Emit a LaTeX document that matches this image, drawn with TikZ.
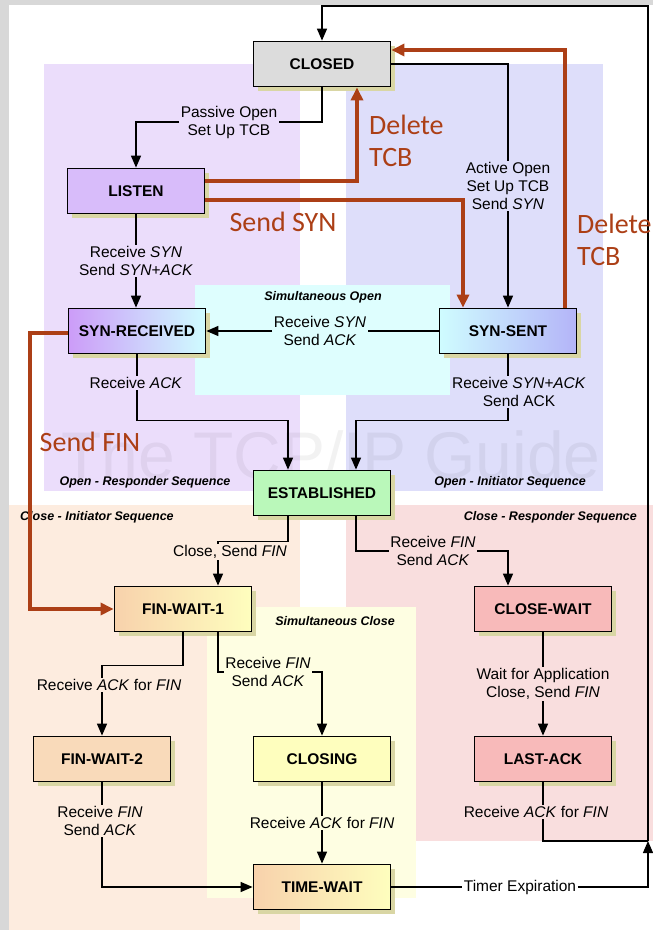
\documentclass[tikz,border=0pt]{standalone}
\usepackage{fontspec}
\setmainfont{Liberation Sans}
\newfontfamily\redfont{Carlito}
\usetikzlibrary{arrows.meta,shadows,calc}
\definecolor{bggray}{HTML}{D8D8D8}
\definecolor{regpurple}{HTML}{EBDDFB}
\definecolor{regblue}{HTML}{DEDEFA}
\definecolor{regcyan}{HTML}{DEFEFE}
\definecolor{regpeach}{HTML}{FDECDF}
\definecolor{regpink}{HTML}{F9DEDE}
\definecolor{regyellow}{HTML}{FEFEE2}
\definecolor{shadowc}{HTML}{D9D6A4}
\definecolor{redc}{HTML}{AC3F16}
\definecolor{cgray}{HTML}{DCDCDC}
\definecolor{cpurple}{HTML}{D8BCFA}
\definecolor{cpurple2}{HTML}{CC9CF8}
\definecolor{ccyan}{HTML}{CFFCFF}
\definecolor{cblue}{HTML}{B4B4F8}
\definecolor{cgreen}{HTML}{BAF8BA}
\definecolor{cpeach}{HTML}{F8D2AC}
\definecolor{cyellow}{HTML}{FEFEBE}
\definecolor{cpink}{HTML}{F8BABA}
\definecolor{cpeach2}{HTML}{F9DABA}
\begin{document}
\begin{tikzpicture}[x=1pt,y=-1pt,
  state/.style={draw=black, line width=1.8pt, minimum width=137pt, minimum height=45pt,
    inner sep=0pt, font=\fontsize{15.5}{18}\selectfont\bfseries,
    drop shadow={shadow xshift=4pt, shadow yshift=-4pt, fill=shadowc, opacity=1}},
  lbl/.style={align=center, inner sep=1.5pt, font=\fontsize{15.5}{18}\selectfont},
  reg/.style={inner sep=0pt, font=\fontsize{12.5}{15}\selectfont\bfseries\itshape},
  conn/.style={line width=1.4pt},
  arr/.style={conn, -{Triangle[length=12pt,width=10pt]}},
  redarr/.style={draw=redc, line width=4pt, -{Triangle[length=13pt,width=12pt]}},
  redtxt/.style={text=redc, font=\redfont\fontsize{28}{32}\selectfont, align=left, inner sep=0pt}]
\useasboundingbox (0,0) rectangle (653,930);
% background
\fill[bggray] (0,0) rectangle (653,930);
\fill[white] (9,5) rectangle (653,930);
% regions
\fill[regpurple] (44,64) rectangle (300,491);
\fill[regblue] (346,64) rectangle (603,491);
\fill[regcyan] (195,285) rectangle (450,395);
\fill[regpeach] (9,505) rectangle (300,930);
\fill[regpink] (346,505) rectangle (653,841);
\fill[regyellow] (207,607) rectangle (416,898);
% watermark
\node[text=black, opacity=0.05, font=\fontsize{66}{70}\selectfont, inner sep=0pt] (wm) at (331,455) {The TCP/IP Guide};
% region labels
\node[reg] (rl1) at (145,482) {Open - Responder Sequence};
\node[reg] (rl2) at (510,482) {Open - Initiator Sequence};
\node[reg] (rl3) at (323,297) {Simultaneous Open};
\node[reg, anchor=west] (rl4) at (20,517) {Close - Initiator Sequence};
\node[reg, anchor=east] (rl5) at (637,517) {Close - Responder Sequence};
\node[reg] (rl6) at (335,621) {Simultaneous Close};
% states
\node[state, fill=cgray] (closed) at (322,64) {CLOSED};
\node[state, fill=cpurple] (listen) at (136,191) {LISTEN};
\node[state, left color=cpurple2, right color=ccyan] (synr) at (137,331) {SYN-RECEIVED};
\node[state, left color=ccyan, right color=cblue] (syns) at (508,331) {SYN-SENT};
\node[state, fill=cgreen] (est) at (322,493) {ESTABLISHED};
\node[state, left color=cpeach, right color=cyellow] (fw1) at (183,609) {FIN-WAIT-1};
\node[state, fill=cpink] (cw) at (543,609) {CLOSE-WAIT};
\node[state, fill=cpeach2] (fw2) at (102,759) {FIN-WAIT-2};
\node[state, fill=cyellow] (closing) at (322,759) {CLOSING};
\node[state, fill=cpink] (lastack) at (543,759) {LAST-ACK};
\node[state, left color=cpeach, right color=cyellow] (tw) at (322,887) {TIME-WAIT};
% labels
\node[lbl] (pl) at (229,122) {Passive Open\\Set Up TCB};
\node[lbl] (ao) at (508,186) {Active Open\\Set Up TCB\\Send \textit{SYN}};
\node[lbl] (rs1) at (136,261) {Receive \textit{SYN}\\Send \textit{SYN+ACK}};
\node[lbl] (rs2) at (320,331) {Receive \textit{SYN}\\Send \textit{ACK}};
\node[lbl] (ra) at (136,383) {Receive \textit{ACK}};
\node[lbl] (rsa) at (519,392) {Receive \textit{SYN+ACK}\\Send ACK};
\node[lbl] (csf) at (230,552) {Close, Send \textit{FIN}};
\node[lbl] (rf1) at (433,551) {Receive \textit{FIN}\\Send \textit{ACK}};
\node[lbl] (raf1) at (109,685) {Receive \textit{ACK} for \textit{FIN}};
\node[lbl] (rf2) at (268,672) {Receive \textit{FIN}\\Send \textit{ACK}};
\node[lbl] (rf3) at (100,821) {Receive \textit{FIN}\\Send \textit{ACK}};
\node[lbl] (raf2) at (322,823) {Receive \textit{ACK} for \textit{FIN}};
\node[lbl] (wfa) at (543,684) {Wait for Application\\Close, Send \textit{FIN}};
\node[lbl] (raf3) at (536,812) {Receive \textit{ACK} for \textit{FIN}};
\node[lbl] (te) at (520,887) {Timer Expiration};
% helper coordinates
\coordinate (estNL) at ($(est.north)+(-34,0)$);
\coordinate (estNR) at ($(est.north)+(34,0)$);
\coordinate (estSL) at ($(est.south)+(-34,0)$);
\coordinate (estSR) at ($(est.south)+(34,0)$);
\coordinate (fw1NR) at ($(fw1.north)+(35,0)$);
\coordinate (fw1SR) at ($(fw1.south)+(35,0)$);
\coordinate (cwNL) at ($(cw.north)+(-35,0)$);
\coordinate (join) at (648,841);
\coordinate (topr) at (648,6);
% black connectors
\draw[conn] (closed.south) |- (pl.east);
\draw[arr] (pl.west) -| (listen.north);
\draw[conn] (closed.east) -| (syns.north |- ao.north);
\draw[arr] (syns.north |- ao.south) -- (syns.north);
\draw[conn] (listen.south) -- (rs1.north -| listen.south);
\draw[arr] (rs1.south -| listen.south) -- (synr.north -| listen.south);
\draw[conn] (syns.west) -- (rs2.east);
\draw[arr] (rs2.west) -- (synr.east);
\draw[conn] (synr.south) -- (ra.north -| synr.south);
\draw[arr] (ra.south -| synr.south) |- ($(estNL)+(0,-49)$) -- (estNL);
\draw[conn] (syns.south) -- (syns.south |- rsa.north);
\draw[arr] (syns.south |- rsa.south) |- ($(estNR)+(0,-49)$) -- (estNR);
\draw[conn] (estSL) -- ++(0,25) -| (csf.north -| fw1NR);
\draw[arr] (csf.south -| fw1NR) -- (fw1NR);
\draw[conn] (estSR) |- (rf1.west);
\draw[arr] (rf1.east) -| (cwNL);
\draw[conn] (fw1.south) -- ++(0,33) -| (raf1.north -| fw2.north);
\draw[arr] (raf1.south -| fw2.north) -- (fw2.north);
\draw[conn] (fw1SR) |- (rf2.west);
\draw[arr] (rf2.east) -| (closing.north);
\draw[conn] (fw2.south) -- (fw2.south |- rf3.north);
\draw[arr] (fw2.south |- rf3.south) |- (tw.west);
\draw[conn] (closing.south) -- (raf2.north);
\draw[arr] (raf2.south) -- (tw.north);
\draw[conn] (cw.south) -- (wfa.north);
\draw[arr] (wfa.south) -- (lastack.north);
\draw[conn] (lastack.south) -- (raf3.north -| lastack.south);
\draw[conn] (raf3.south -| lastack.south) |- (join);
\draw[conn] (tw.east) -- (te.west);
\draw[arr] (te.east) -| (join);
\draw[arr] (join) -- (topr) -| (closed.north);
% red arrows
\draw[redarr] ($(listen.east)+(0,-10)$) -| ($(closed.south)+(35,0)$);
\draw[redarr] ($(listen.east)+(0,9)$) -| ($(syns.north)+(-45,0)$);
\draw[redarr] ($(syns.north)+(57,0)$) |- ($(closed.east)+(0,-14)$);
\draw[redarr] ($(synr.west)+(0,2)$) -- ++(-38,0) |- (fw1.west);
% red labels
\node[redtxt, anchor=north west] (dt1) at (369,115) {Delete\\TCB};
\node[redtxt, anchor=north west] (dt2) at (577,214) {Delete\\TCB};
\node[redtxt] (ssyn) at (283,222) {Send SYN};
\node[redtxt] (sfin) at (90,442) {Send FIN};
\end{tikzpicture}
\end{document}
